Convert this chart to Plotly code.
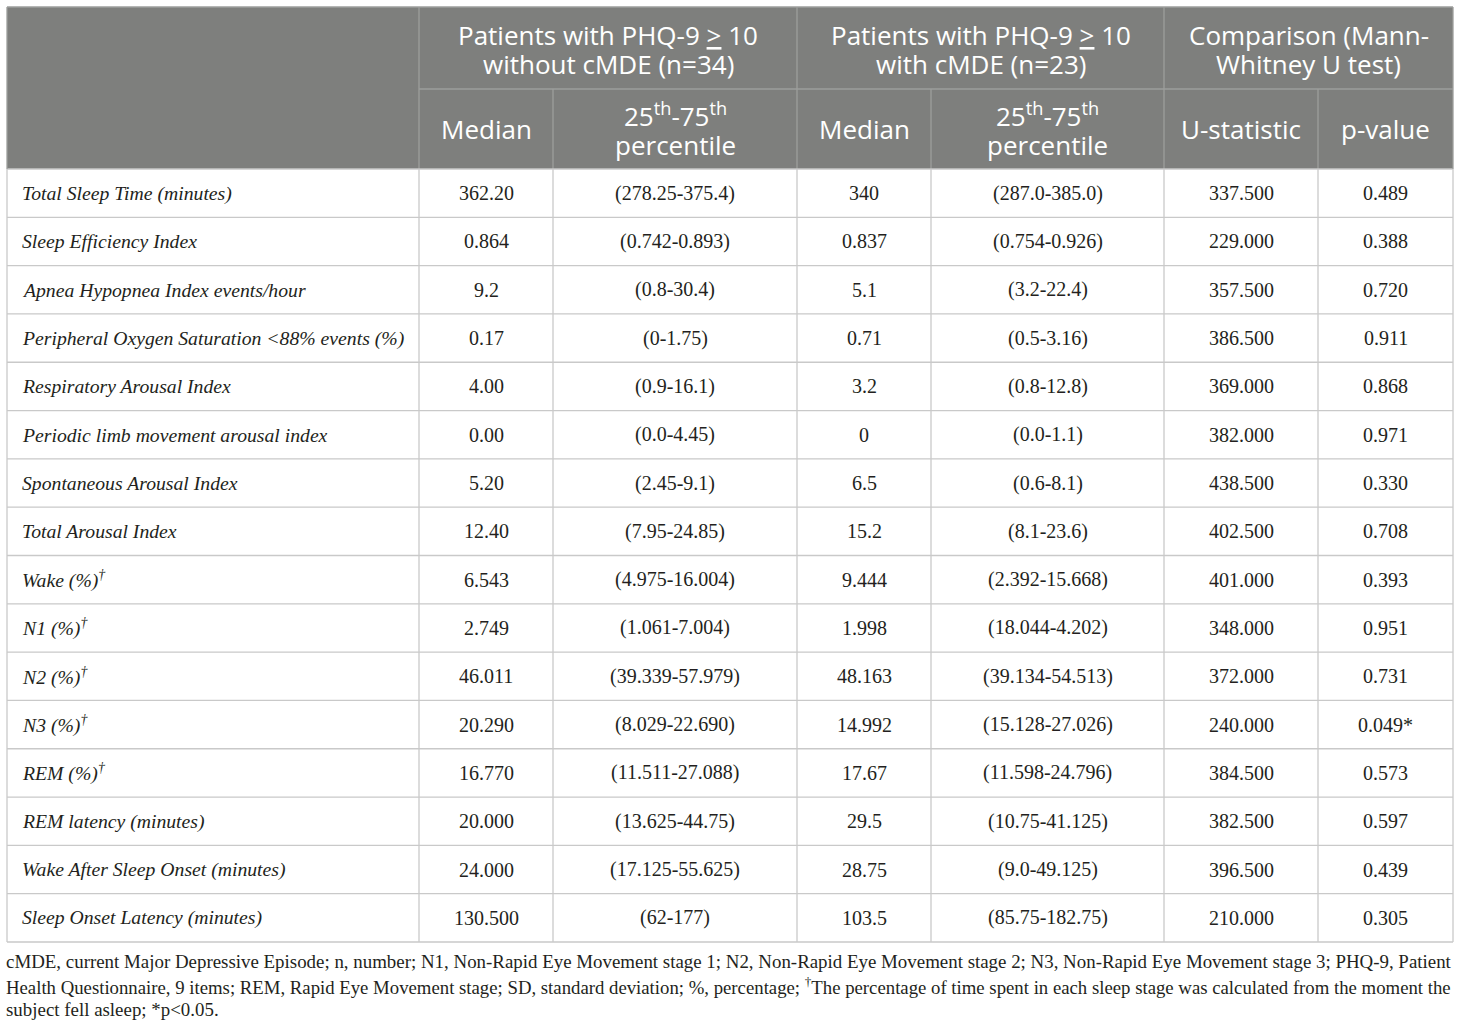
import plotly.graph_objects as go

# ---------------- data ----------------
row_labels = [
    "Total Sleep Time (minutes)",
    "Sleep Efficiency Index",
    "Apnea Hypopnea Index events/hour",
    "Peripheral Oxygen Saturation <88% events (%)",
    "Respiratory Arousal Index",
    "Periodic limb movement arousal index",
    "Spontaneous Arousal Index",
    "Total Arousal Index",
    "Wake (%)<sup>†</sup>",
    "N1 (%)<sup>†</sup>",
    "N2 (%)<sup>†</sup>",
    "N3 (%)<sup>†</sup>",
    "REM (%)<sup>†</sup>",
    "REM latency (minutes)",
    "Wake After Sleep Onset (minutes)",
    "Sleep Onset Latency (minutes)",
]
median_no_cmde = ["362.20", "0.864", "9.2", "0.17", "4.00", "0.00", "5.20", "12.40",
                  "6.543", "2.749", "46.011", "20.290", "16.770", "20.000", "24.000", "130.500"]
iqr_no_cmde = ["(278.25-375.4)", "(0.742-0.893)", "(0.8-30.4)", "(0-1.75)", "(0.9-16.1)",
               "(0.0-4.45)", "(2.45-9.1)", "(7.95-24.85)", "(4.975-16.004)", "(1.061-7.004)",
               "(39.339-57.979)", "(8.029-22.690)", "(11.511-27.088)", "(13.625-44.75)",
               "(17.125-55.625)", "(62-177)"]
median_cmde = ["340", "0.837", "5.1", "0.71", "3.2", "0", "6.5", "15.2",
               "9.444", "1.998", "48.163", "14.992", "17.67", "29.5", "28.75", "103.5"]
iqr_cmde = ["(287.0-385.0)", "(0.754-0.926)", "(3.2-22.4)", "(0.5-3.16)", "(0.8-12.8)",
            "(0.0-1.1)", "(0.6-8.1)", "(8.1-23.6)", "(2.392-15.668)", "(18.044-4.202)",
            "(39.134-54.513)", "(15.128-27.026)", "(11.598-24.796)", "(10.75-41.125)",
            "(9.0-49.125)", "(85.75-182.75)"]
u_statistic = ["337.500", "229.000", "357.500", "386.500", "369.000", "382.000", "438.500",
               "402.500", "401.000", "348.000", "372.000", "240.000", "384.500", "382.500",
               "396.500", "210.000"]
p_value = ["0.489", "0.388", "0.720", "0.911", "0.868", "0.971", "0.330", "0.708", "0.393",
           "0.951", "0.731", "0.049*", "0.573", "0.597", "0.439", "0.305"]

# header texts: each entry is a list of lines
group_headers = [["Patients with PHQ-9 <u>&gt;</u> 10", "without cMDE (n=34)"],
                 ["Patients with PHQ-9 <u>&gt;</u> 10", "with cMDE (n=23)"],
                 ["Comparison (Mann-", "Whitney U test)"]]
sub_headers = [["Median"], ["25<sup>th</sup>-75<sup>th</sup>", "percentile"],
               ["Median"], ["25<sup>th</sup>-75<sup>th</sup>", "percentile"],
               ["U-statistic"], ["p-value"]]

footnote_lines = [
    "cMDE, current Major Depressive Episode; n, number; N1, Non-Rapid Eye Movement stage 1; N2, Non-Rapid Eye Movement stage 2; N3, Non-Rapid Eye Movement stage 3; PHQ-9, Patient",
    "Health Questionnaire, 9 items; REM, Rapid Eye Movement stage; SD, standard deviation; %, percentage; <sup>†</sup>The percentage of time spent in each sleep stage was calculated from the moment the",
    "subject fell asleep; *p<0.05.",
]

# ---------------- layout geometry (style) ----------------
W, H = 1460, 1029
col_edges = [7, 419, 553, 797, 931, 1164, 1318, 1453]
hdr_top, hdr_mid, hdr_bot = 7, 89, 169
body_bot = 942
n_rows = len(row_labels)
row_h = (body_bot - hdr_bot) / n_rows

HDR_BG = "#7e7f7d"
HDR_LINE = "#9d9e9c"
BODY_LINE = "#c9c9c9"
TXT = "#231f20"
SERIF = "Liberation Serif, Times New Roman, serif"
SANS = "Open Sans, Noto Sans, sans-serif"
HDR_SIZE = 26
HDR_LINE_GAP = 29

shapes = []
annotations = []

def line(x0, y0, x1, y1, color, width=1.3):
    shapes.append(dict(type="line", xref="x", yref="y", x0=x0, y0=y0, x1=x1, y1=y1,
                       line=dict(color=color, width=width), layer="above"))

def text_block(xc, yc, lines, size, family, color, gap):
    n = len(lines)
    for k, t in enumerate(lines):
        y = yc + (k - (n - 1) / 2) * gap
        annotations.append(dict(x=xc, y=y, xref="x", yref="y", text=t, showarrow=False,
                                xanchor="center", yanchor="middle",
                                font=dict(family=family, size=size, color=color)))

# header background
shapes.append(dict(type="rect", xref="x", yref="y", x0=col_edges[0], x1=col_edges[-1],
                   y0=hdr_top, y1=hdr_bot, fillcolor=HDR_BG, line=dict(width=0), layer="below"))

# header lines
line(col_edges[1], hdr_mid, col_edges[-1], hdr_mid, HDR_LINE)
for i in (1, 3, 5):
    line(col_edges[i], hdr_top, col_edges[i], hdr_bot, HDR_LINE)
for i in (2, 4, 6):
    line(col_edges[i], hdr_mid, col_edges[i], hdr_bot, HDR_LINE)
line(col_edges[0], hdr_top, col_edges[-1], hdr_top, HDR_LINE)

# body lines
for r in range(n_rows + 1):
    y = hdr_bot + r * row_h
    line(col_edges[0], y, col_edges[-1], y, BODY_LINE)
for x in col_edges:
    line(x, hdr_bot, x, body_bot, BODY_LINE)
line(col_edges[0], hdr_top, col_edges[0], hdr_bot, HDR_LINE)
line(col_edges[-1], hdr_top, col_edges[-1], hdr_bot, HDR_LINE)

# group headers
for g, lines in enumerate(group_headers):
    x0, x1 = col_edges[1 + 2 * g], col_edges[3 + 2 * g]
    text_block((x0 + x1) / 2, (hdr_top + hdr_mid) / 2 + 1, lines, HDR_SIZE, SANS, "white",
               HDR_LINE_GAP)
# sub headers
for c, lines in enumerate(sub_headers):
    x0, x1 = col_edges[1 + c], col_edges[2 + c]
    yc = (hdr_mid + hdr_bot) / 2 + (0 if len(lines) == 1 else 1)
    text_block((x0 + x1) / 2, yc, lines, HDR_SIZE, SANS, "white", 30)

# body cells
columns = [median_no_cmde, iqr_no_cmde, median_cmde, iqr_cmde, u_statistic, p_value]
for r in range(n_rows):
    yc = hdr_bot + (r + 0.5) * row_h
    annotations.append(dict(x=col_edges[0] + 13, y=yc, xref="x", yref="y",
                            text="<i>" + row_labels[r] + "</i>", showarrow=False,
                            xanchor="left", yanchor="middle",
                            font=dict(family=SERIF, size=19.7, color=TXT)))
    for c, col in enumerate(columns):
        x0, x1 = col_edges[1 + c], col_edges[2 + c]
        annotations.append(dict(x=(x0 + x1) / 2, y=yc, xref="x", yref="y",
                                text=col[r], showarrow=False, xanchor="center", yanchor="middle",
                                font=dict(family=SERIF, size=20, color=TXT)))

# footnote
foot_y = [961, 986, 1009]
foot_size = [18.9, 18.75, 18.9]
for t, y, s in zip(footnote_lines, foot_y, foot_size):
    annotations.append(dict(x=col_edges[0] - 3, y=y, xref="x", yref="y", text=t, showarrow=False,
                            xanchor="left", yanchor="middle",
                            font=dict(family=SERIF, size=s, color=TXT)))

fig = go.Figure()
fig.update_layout(
    width=W, height=H,
    margin=dict(l=0, r=0, t=0, b=0),
    paper_bgcolor="white", plot_bgcolor="white",
    xaxis=dict(range=[0, W], visible=False, fixedrange=True),
    yaxis=dict(range=[H, 0], visible=False, fixedrange=True),
    shapes=shapes, annotations=annotations, showlegend=False,
)
fig.write_html("out.html", config={"displayModeBar": False},
               post_script="document.body.style.margin='0';document.body.style.overflow='hidden';")
